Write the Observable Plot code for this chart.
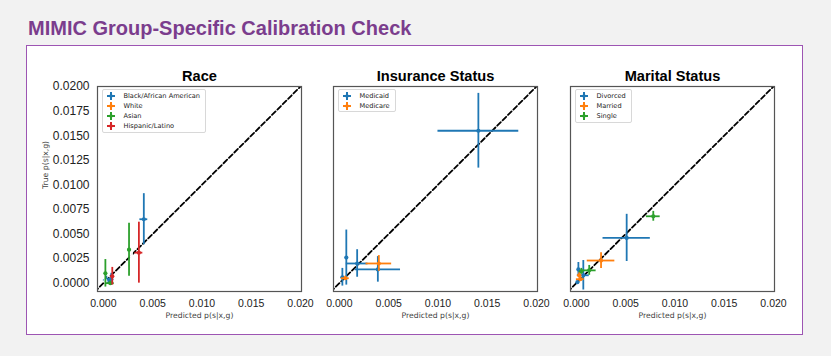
<!DOCTYPE html>
<html><head><meta charset="utf-8">
<script src="https://cdn.jsdelivr.net/npm/d3@7"></script>
<script src="https://cdn.jsdelivr.net/npm/@observablehq/plot@0.6"></script>
<style>
body{margin:0;background:#f2f2f2;}
#wrap{position:relative;width:831px;height:356px;background:#f2f2f2;overflow:hidden;font-family:"Liberation Sans",Arial,sans-serif;}
#title{position:absolute;left:28px;top:16px;font-size:20px;font-weight:bold;color:#7b3d8d;line-height:24px;white-space:nowrap}
#box{position:absolute;left:26px;top:45px;width:777px;height:290px;box-sizing:border-box;background:#fff;border:1.5px solid #9d55b3;}
.panel{position:absolute;top:45px}
.legend{position:absolute;top:89px;border:1px solid #d8d8d8;border-radius:2px;background:rgba(255,255,255,0.85);padding:0.5px 5px 0.5px 3.5px;font-family:"DejaVu Sans",sans-serif;font-size:6.6px;color:#222}
.legend .row{display:flex;align-items:center;height:10.2px;white-space:nowrap}
.legend svg{display:block;margin-right:7.5px}
</style></head>
<body>
<div id="wrap">
  <div id="title">MIMIC Group-Specific Calibration Check</div>
  <div id="box"></div>
</div>
<script>
const tab10 = ["#1f77b4", "#ff7f0e", "#2ca02c", "#d62728"];
const xTicks = [0, 0.005, 0.010, 0.015, 0.020];
const yTicks = [0, 0.0025, 0.005, 0.0075, 0.010, 0.0125, 0.015, 0.0175, 0.020];
const xDomain = [-0.0006, 0.0201];
const yDomain = [-0.00085, 0.0200];
const diagExtent = [-0.002, 0.022];

// [group, predicted, predicted error, true, true error]
const raceGroups = ["Black/African American", "White", "Asian", "Hispanic/Latino"];
const racePoints = [
  ["Black/African American", 0.0041, 0.0004, 0.0065, 0.0026],
  ["Black/African American", 0.0003, 0.0003, 0.0003, 0.0004],
  ["Black/African American", 0.0005, 0.0003, 0.0002, 0.0003],
  ["Black/African American", 0.0008, 0.0002, 0.0004, 0.0006],
  ["White", 0.0029, 0.0002, 0.0027, 0.0008],
  ["White", 0.0002, 0.0001, 0.0002, 0.0002],
  ["Asian", 0.0026, 0.0001, 0.0034, 0.0027],
  ["Asian", 0.0002, 0.0001, 0.0010, 0.0014],
  ["Asian", 0.0007, 0.0004, 0.0000, 0.0002],
  ["Hispanic/Latino", 0.0036, 0.0004, 0.0031, 0.0031],
  ["Hispanic/Latino", 0.0009, 0.0001, 0.0007, 0.0009]
];

const insuranceGroups = ["Medicaid", "Medicare"];
const insurancePoints = [
  ["Medicaid", 0.0141, 0.0041, 0.0155, 0.0038],
  ["Medicaid", 0.0007, 0.0001, 0.0026, 0.0028],
  ["Medicaid", 0.0018, 0.0011, 0.0020, 0.0014],
  ["Medicaid", 0.0039, 0.0023, 0.0014, 0.0013],
  ["Medicaid", 0.0003, 0.0001, 0.0006, 0.0009],
  ["Medicare", 0.0040, 0.0013, 0.0020, 0.0008],
  ["Medicare", 0.0006, 0.0004, 0.0005, 0.0002]
];

const maritalGroups = ["Divorced", "Married", "Single"];
const maritalPoints = [
  ["Divorced", 0.0051, 0.0024, 0.0046, 0.0024],
  ["Divorced", 0.0007, 0.0006, 0.0008, 0.0015],
  ["Divorced", 0.0002, 0.0001, 0.0014, 0.0007],
  ["Divorced", 0.0001, 0.0001, 0.0001, 0.0001],
  ["Married", 0.0025, 0.0014, 0.0023, 0.0008],
  ["Married", 0.0004, 0.0004, 0.0004, 0.0002],
  ["Married", 0.0003, 0.0002, 0.0008, 0.0003],
  ["Single", 0.0078, 0.0007, 0.0068, 0.0005],
  ["Single", 0.0013, 0.0007, 0.0013, 0.0005],
  ["Single", 0.0005, 0.0002, 0.0012, 0.0003]
];

const panels = [
  {title: "Race", groups: raceGroups, points: racePoints, frameLeft: 97, showY: true},
  {title: "Insurance Status", groups: insuranceGroups, points: insurancePoints, frameLeft: 333, showY: false},
  {title: "Marital Status", groups: maritalGroups, points: maritalPoints, frameLeft: 570, showY: false}
];

const wrap = document.getElementById("wrap");
const frameW = 204;

for (const p of panels) {
  const marginLeft = p.showY ? 71 : 20;
  const marginRight = 12;
  const rows = p.points.map(([group, pred, predErr, truth, truthErr]) => ({group, pred, predErr, truth, truthErr}));
  const perGroup = p.groups.flatMap(g => {
    const d = rows.filter(r => r.group === g);
    return [
      Plot.ruleX(d, {x: "pred", y1: r => r.truth - r.truthErr, y2: r => r.truth + r.truthErr, stroke: "group", strokeWidth: 1.8}),
      Plot.ruleY(d, {y: "truth", x1: r => r.pred - r.predErr, x2: r => r.pred + r.predErr, stroke: "group", strokeWidth: 1.8}),
      Plot.dot(d, {x: "pred", y: "truth", fill: "group", r: 2.1})
    ];
  });
  const marks = [
    Plot.line(diagExtent, {x: d => d, y: d => d, stroke: "black", strokeWidth: 1.8, strokeDasharray: "5,2.6", clip: true}),
    ...perGroup,
    Plot.frame({stroke: "#555", strokeWidth: 1.2}),
    Plot.axisX({ticks: xTicks, tickFormat: d3.format(".3f"), tickSize: 0, tickPadding: 8, fontSize: 10.5, fill: "#222", label: null, fontFamily: "Liberation Sans, Arial, sans-serif"}),
    Plot.text([p.title], {frameAnchor: "top", dy: -16, fontSize: 14.6, fontWeight: "bold", fill: "#000", fontFamily: "Liberation Sans, Arial, sans-serif"}),
    Plot.text(["Predicted p(s|x,g)"], {frameAnchor: "bottom", dy: 26, fontSize: 7.7, fill: "#444", fontFamily: "DejaVu Sans, sans-serif"})
  ];
  if (p.showY) {
    marks.push(
      Plot.axisY({ticks: yTicks, tickFormat: d3.format(".4f"), tickSize: 0, tickPadding: 8, fontSize: 12, fill: "#222", label: null, fontFamily: "Liberation Sans, Arial, sans-serif"}),
      Plot.text(["True p(s|x,g)"], {frameAnchor: "left", dx: -52, rotate: -90, fontSize: 7.7, fill: "#444", fontFamily: "DejaVu Sans, sans-serif"})
    );
  }
  const chart = Plot.plot({
    width: marginLeft + frameW + marginRight,
    height: 290,
    marginLeft, marginRight, marginTop: 41, marginBottom: 44,
    x: {domain: xDomain},
    y: {domain: yDomain, axis: p.showY ? undefined : null},
    color: {domain: p.groups, range: tab10.slice(0, p.groups.length)},
    style: {background: "transparent", overflow: "visible"},
    marks
  });
  chart.classList.add("panel");
  chart.style.left = (p.frameLeft - marginLeft) + "px";
  wrap.appendChild(chart);

  const leg = document.createElement("div");
  leg.className = "legend";
  leg.style.left = (p.frameLeft + 4.5) + "px";
  p.groups.forEach((g, i) => {
    const row = document.createElement("div");
    row.className = "row";
    const c = tab10[i];
    row.innerHTML = `<svg width="10" height="10" viewBox="0 0 10 10"><line x1="1" y1="5" x2="9" y2="5" stroke="${c}" stroke-width="2"/><line x1="5" y1="1" x2="5" y2="9" stroke="${c}" stroke-width="2"/><circle cx="5" cy="5" r="1.8" fill="${c}"/></svg><span>${g}</span>`;
    leg.appendChild(row);
  });
  wrap.appendChild(leg);
}
</script>
</body></html>
